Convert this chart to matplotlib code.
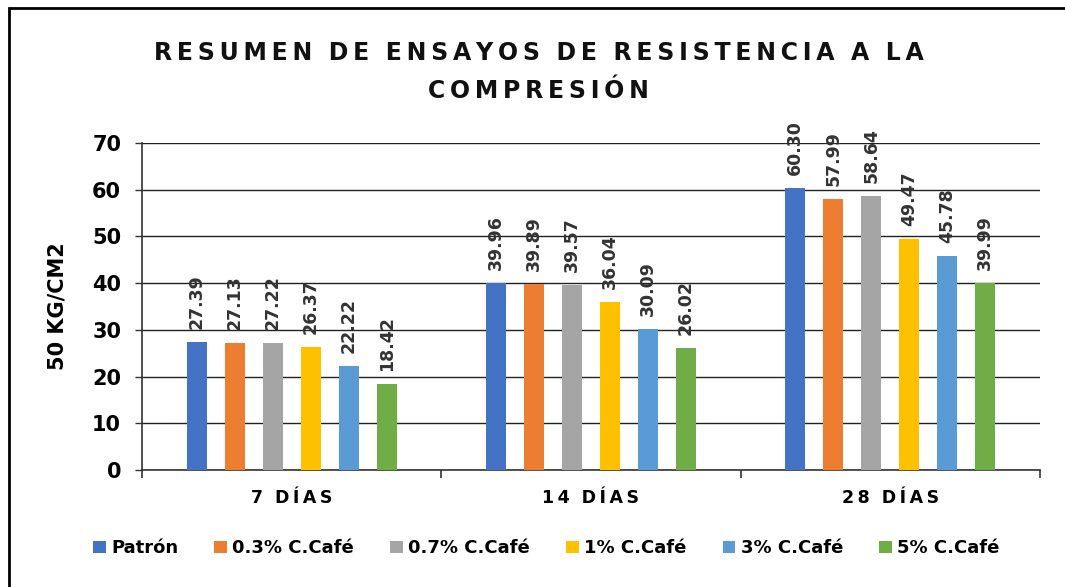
import numpy as np
import matplotlib
matplotlib.use("Agg")
import matplotlib.pyplot as plt
from matplotlib.patches import Rectangle

plt.rcParams["font.family"] = ["DejaVu Sans"]

categories = ["7 DÍAS", "14 DÍAS", "28 DÍAS"]
series_names = ["Patrón", "0.3% C.Café", "0.7% C.Café", "1% C.Café", "3% C.Café", "5% C.Café"]
patron = [27.39, 39.96, 60.30]
cafe_03 = [27.13, 39.89, 57.99]
cafe_07 = [27.22, 39.57, 58.64]
cafe_1 = [26.37, 36.04, 49.47]
cafe_3 = [22.22, 30.09, 45.78]
cafe_5 = [18.42, 26.02, 39.99]
series = [patron, cafe_03, cafe_07, cafe_1, cafe_3, cafe_5]
colors = ["#4472C4", "#ED7D31", "#A5A5A5", "#FFC000", "#5B9BD5", "#70AD47"]


def spaced(s):
    # letter spacing with thin spaces
    words = s.split(" ")
    return "  ".join("\u2009".join(w) for w in words)


fig = plt.figure(figsize=(10.65, 5.87), dpi=100)
ax = fig.add_axes([0.1333, 0.1993, 0.8432, 0.5571])

x = np.arange(len(categories))
step = 0.127
width = 0.067
for i, (name, vals, c) in enumerate(zip(series_names, series, colors)):
    pos = x + (i - 2.5) * step
    ax.bar(pos, vals, width=width, color=c, label=name, zorder=3)
    for p, v in zip(pos, vals):
        ax.text(p, v + 2.8, f"{v:.2f}", rotation=90, ha="center", va="bottom",
                fontsize=12.5, fontweight="bold", color="#333333", zorder=4)

ax.set_xlim(-0.5, 2.5)
ax.set_ylim(0, 70)
ax.set_yticks(range(0, 71, 10))
ax.yaxis.grid(True, color="#222222", linewidth=1.0, zorder=0)
ax.set_axisbelow(True)
ax.tick_params(axis="y", length=5, color="#333333", labelsize=15, width=1, pad=10)
for t in ax.get_yticklabels():
    t.set_fontweight("bold")
ax.set_xticks(x)
ax.set_xticklabels([spaced(c) for c in categories], fontsize=12.5, fontweight="bold")
ax.tick_params(axis="x", length=0, pad=14)
ax.set_xticks([-0.5, 0.5, 1.5, 2.5], minor=True)
ax.tick_params(axis="x", which="minor", length=6, color="#333333", width=1.2)
for s in ["top", "right"]:
    ax.spines[s].set_visible(False)
ax.spines["left"].set_color("#333333")
ax.spines["bottom"].set_color("#333333")
ax.spines["left"].set_linewidth(1.2)
ax.spines["bottom"].set_linewidth(1.2)

ax.set_ylabel("50 KG/CM2", fontsize=15, fontweight="bold", labelpad=18)

fig.text(0.506, 0.877, spaced("RESUMEN DE ENSAYOS DE RESISTENCIA A LA") + "\n" + spaced("COMPRESIÓN"),
         ha="center", va="center", fontsize=17, fontweight="bold", color="#111111",
         linespacing=1.75)

fig.legend(loc="center", bbox_to_anchor=(0.513, 0.066), ncol=6, frameon=False,
           prop={"weight": "bold", "size": 13}, handlelength=0.7, handleheight=0.7,
           handletextpad=0.3, columnspacing=2.0)

fig.patches.append(Rectangle((0.008, -0.1), 1.2, 1.086, transform=fig.transFigure,
                             fill=False, edgecolor="black", linewidth=2.0))

fig.savefig("out.png", dpi=100)
